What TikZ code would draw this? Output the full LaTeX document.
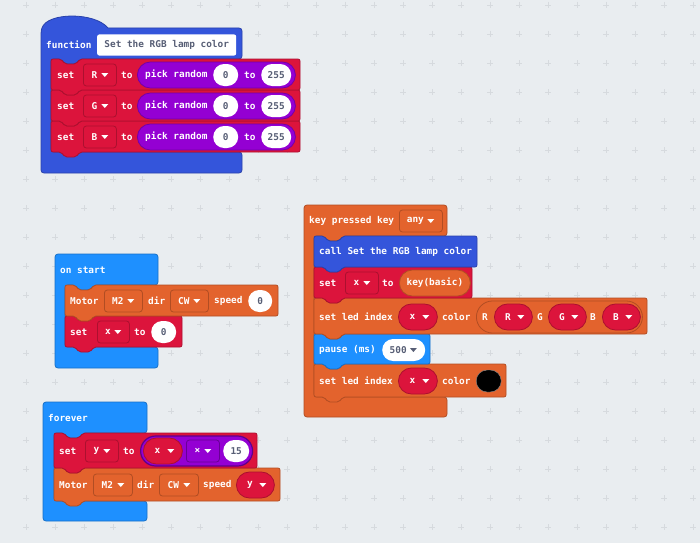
\documentclass[tikz,border=0pt]{standalone}
\usepackage{fontspec}
\setmonofont{DejaVu Sans Mono}
\usetikzlibrary{shapes.misc}
\definecolor{canvas}{HTML}{E9EDF0}
\definecolor{gridgray}{HTML}{D6DADE}
\definecolor{fncblue}{HTML}{3455DB}
\definecolor{varred}{HTML}{DC143C}
\definecolor{mathpurple}{HTML}{9400D3}
\definecolor{motororange}{HTML}{E3632D}
\definecolor{basicblue}{HTML}{1E90FF}
\definecolor{fieldtext}{HTML}{575E75}
\newcommand{\blocktext}{\ttfamily\bfseries\fontsize{9.4}{11}\selectfont}
\newcommand{\ddgap}{\rule{11pt}{0pt}}
% statement block: x1, y1, x2, y2, colour
\newcommand{\blockstmt}[5]{%
  \filldraw[fill=#5, draw=#5!78!black, line width=0.8pt, rounded corners=2pt]
  ({#1},{#2}) -- ({#1+10},{#2}) -- ({#1+14},{#2+5}) -- ({#1+25},{#2+5}) -- ({#1+29},{#2})
  -- ({#3},{#2}) -- ({#3},{#4}) -- ({#1+29},{#4}) -- ({#1+25},{#4+5}) -- ({#1+14},{#4+5})
  -- ({#1+10},{#4}) -- ({#1},{#4}) -- cycle;}
% container: x1, top, x2, header bottom, arm x, arm bottom, bottom, colour
\newcommand{\blockhat}[8]{%
  \filldraw[fill=#8, draw=#8!78!black, line width=0.8pt, rounded corners=3pt]
  (#1,#2) -- (#3,#2) -- (#3,#4) -- ({#5+29},#4) -- ({#5+25},{#4+5}) -- ({#5+14},{#4+5})
  -- ({#5+10},#4) -- (#5,#4) -- (#5,#6) -- (#3,#6) -- (#3,#7) -- (#1,#7) -- cycle;}
\tikzset{
  lbl/.style={anchor=west, text=white, font=\blocktext, inner sep=0pt},
  ddbox/.style={draw=#1, line width=0.8pt, rounded corners=3pt, minimum height=22pt,
    inner sep=0pt, anchor=west, text=white, font=\blocktext},
  pill/.style={rounded rectangle, fill=#1, draw=#1!78!black, line width=0.8pt,
    minimum height=26pt, inner sep=0pt, anchor=west, text=white, font=\blocktext},
  numfld/.style={rounded rectangle, fill=white, minimum height=22pt, inner sep=0pt,
    anchor=west, text=fieldtext, font=\blocktext},
  gridplus/.style={draw=gridgray, line width=0.7pt},
  ddarrow/.pic={\fill (-3.5,-2) -- (3.5,-2) -- (0,2) -- cycle;}
}
\begin{document}
\begin{tikzpicture}[x=1pt, y=-1pt]
\useasboundingbox (0,0) rectangle (700,543);
\fill[canvas] (0,0) rectangle (700,543);
\foreach \i in {0,...,23}
  \foreach \j in {0,...,18}
    \draw[gridplus] ({26+29*\i-3},{5+29*\j}) -- ++(6,0) ({26+29*\i},{5+29*\j-3}) -- ++(0,6);

% function
\filldraw[fill=fncblue, draw=fncblue!78!black, line width=0.8pt, rounded corners=3pt]
  (41,173) -- (41,31) [sharp corners] .. controls (47,12) and (95,12) .. (108,28)
  [rounded corners=3pt] -- (242,28) -- (242,59) -- (80,59) -- (76,64) -- (65,64) -- (61,59)
  -- (51,59) -- (51,152) -- (242,152) -- (242,173) -- cycle;
\node[lbl] (fnc) at (46,45) {function};
\node[fill=white, rounded corners=2pt, minimum width=139pt, minimum height=21pt, inner sep=0pt,
  anchor=west, text=fieldtext, font=\blocktext] (fname) at (97,45) {Set the RGB lamp color};
\foreach \v/\y in {B/121,G/90,R/59}{
  \blockstmt{51}{\y}{300}{\y+31}{varred}
  \node[lbl] at (57,\y+16) {set};
  \node[ddbox=varred!78!black, minimum width=33pt] (dd\v) at (83,\y+16) {\v\ddgap};
  \pic[white] at ([xshift=-12pt]dd\v.east) {ddarrow};
  \node[lbl] at (121,\y+16) {to};
  \node[pill=mathpurple, minimum width=158pt] (rnd\v) at (137,\y+16) {};
  \node[lbl] at (145,\y+16) {pick random};
  \node[numfld, minimum width=25pt] (lo\v) at (213,\y+16) {0};
  \node[lbl] at (244,\y+16) {to};
  \node[numfld, minimum width=30pt] (hi\v) at (261,\y+16) {255};
}

% key pressed
\blockhat{304}{205}{447}{236}{314}{397}{417}{motororange}
\node[lbl] (keyhat) at (309,221) {key pressed key};
\node[ddbox=motororange!78!black, minimum width=43pt] (ddkey) at (399,221) {any\ddgap};
\pic[white] at ([xshift=-12pt]ddkey.east) {ddarrow};

\blockstmt{314}{364}{506}{397}{motororange}
\node[lbl] at (319,381) {set led index};
\node[pill=varred, minimum width=39pt] (ledxb) at (398,381) {x\ddgap};
\pic[white] at ([xshift=-12pt]ledxb.east) {ddarrow};
\node[lbl] at (442,381) {color};
\node[rounded rectangle, fill=black, draw=white!55!black, minimum width=25pt, minimum height=22pt,
  inner sep=0pt, anchor=west] (black) at (476,381) {};

\blockstmt{314}{334}{430}{364}{basicblue}
\node[lbl] at (319,350) {pause (ms)};
\node[numfld, minimum width=43pt] (ms) at (382,350) {500\ddgap};
\pic[fieldtext] at ([xshift=-12pt]ms.east) {ddarrow};

\blockstmt{314}{298}{647}{334}{motororange}
\node[lbl] at (319,317) {set led index};
\node[pill=varred, minimum width=39pt] (ledx) at (398,317) {x\ddgap};
\pic[white] at ([xshift=-12pt]ledx.east) {ddarrow};
\node[lbl] at (442,317) {color};
\node[pill=motororange, minimum width=166pt, minimum height=32pt] (rgb) at (476,317) {};
\foreach \c/\lx/\px in {R/482/494,G/537/548,B/590/602}{
  \node[lbl] at (\lx,317) {\c};
  \node[pill=varred, minimum width=38pt] (rgb\c) at (\px,317) {\c\ddgap};
  \pic[white] at ([xshift=-12pt]rgb\c.east) {ddarrow};
}

\blockstmt{314}{267}{472}{298}{varred}
\node[lbl] at (319,283) {set};
\node[ddbox=varred!78!black, minimum width=33pt] (ddx) at (345,283) {x\ddgap};
\pic[white] at ([xshift=-12pt]ddx.east) {ddarrow};
\node[lbl] at (382,283) {to};
\node[pill=motororange, minimum width=71pt] (keyb) at (399,283) {key(basic)};

\blockstmt{314}{236}{477}{267}{fncblue}
\node[lbl] (call) at (319,252) {call Set the RGB lamp color};

% on start
\blockhat{55}{254}{158}{285}{65}{347}{368}{basicblue}
\node[lbl] (start) at (60,270) {on start};
\blockstmt{65}{316}{182}{347}{varred}
\node[lbl] at (70,332) {set};
\node[ddbox=varred!78!black, minimum width=32pt] (ddx0) at (97,332) {x\ddgap};
\pic[white] at ([xshift=-12pt]ddx0.east) {ddarrow};
\node[lbl] at (134,332) {to};
\node[numfld, minimum width=25pt] (zero) at (151,332) {0};
\blockstmt{65}{285}{278}{316}{motororange}
\node[lbl] at (70,301) {Motor};
\node[ddbox=motororange!78!black, minimum width=38pt] (mtr) at (104,301) {M2\ddgap};
\pic[white] at ([xshift=-12pt]mtr.east) {ddarrow};
\node[lbl] at (148,301) {dir};
\node[ddbox=motororange!78!black, minimum width=38pt] (dir) at (170,301) {CW\ddgap};
\pic[white] at ([xshift=-12pt]dir.east) {ddarrow};
\node[lbl] at (214,301) {speed};
\node[numfld, minimum width=24pt] (spd) at (248,301) {0};

% forever
\blockhat{43}{402}{147}{433}{54}{501}{521}{basicblue}
\node[lbl] (loop) at (48,418) {forever};
\blockstmt{54}{468}{280}{501}{motororange}
\node[lbl] at (59,485) {Motor};
\node[ddbox=motororange!78!black, minimum width=39pt] (mtrb) at (93,485) {M2\ddgap};
\pic[white] at ([xshift=-12pt]mtrb.east) {ddarrow};
\node[lbl] at (137,485) {dir};
\node[ddbox=motororange!78!black, minimum width=39pt] (dirb) at (159,485) {CW\ddgap};
\pic[white] at ([xshift=-12pt]dirb.east) {ddarrow};
\node[lbl] at (203,485) {speed};
\node[pill=varred, minimum width=38pt] (spdy) at (236,485) {y\ddgap};
\pic[white] at ([xshift=-12pt]spdy.east) {ddarrow};
\blockstmt{54}{433}{257}{468}{varred}
\node[lbl] at (59,451) {set};
\node[ddbox=varred!78!black, minimum width=33pt] (ddy) at (85,451) {y\ddgap};
\pic[white] at ([xshift=-12pt]ddy.east) {ddarrow};
\node[lbl] at (123,451) {to};
\node[pill=mathpurple, draw=mathpurple!65!black, line width=1.2pt, minimum width=112pt,
  minimum height=30pt] (mul) at (140,451) {};
\node[pill=varred, minimum width=39pt] (mulx) at (143,451) {x\ddgap};
\pic[white] at ([xshift=-12pt]mulx.east) {ddarrow};
\node[ddbox=mathpurple!70!black, fill=mathpurple, minimum width=33pt] (op) at (186,451) {×\ddgap};
\pic[white] at ([xshift=-12pt]op.east) {ddarrow};
\node[numfld, minimum width=26pt] (fifteen) at (223,451) {15};
\end{tikzpicture}
\end{document}
